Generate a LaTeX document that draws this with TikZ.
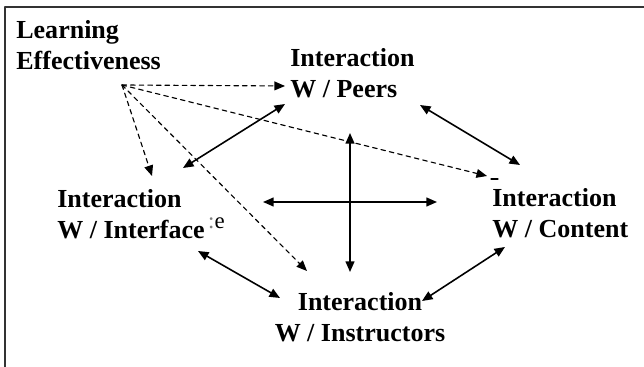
\documentclass[tikz,border=0pt]{standalone}
\usepackage{fontspec}
\setmainfont{Liberation Serif}
\usetikzlibrary{arrows.meta}

\begin{document}
\begin{tikzpicture}[x=1cm,y=1cm,line cap=round,line join=round,
  lbl/.style={inner sep=0pt,align=left,anchor=north west,
   font=\fontsize{14.8}{17.6}\selectfont\bfseries},
  link/.style={line width=0.9pt,
   {Triangle[length=6pt,width=5pt]}-{Triangle[length=6pt,width=5pt]}},
  hint/.style={line width=0.65pt,dash pattern=on 2.6pt off 2.3pt,
   -{Triangle[length=6pt,width=5pt]}}]
  \useasboundingbox (0,0) rectangle (12.88,-7.34);
  \draw[line width=1.1pt,black!80,line cap=butt] (0.10,-7.34) -- (0.10,-0.14) -- (12.88,-0.14);
  \node[lbl] (learn) at (0.32,-0.40) {Learning\\Effectiveness};
  \node[lbl] (peers) at (5.80,-0.96) {Interaction\\W / Peers};
  \node[lbl] (iface) at (1.14,-3.78) {Interaction\\W / Interface\kern2pt{\mdseries\fontsize{13}{13}\selectfont\raisebox{0.2cm}{{\color{gray}:}e}}};
  \node[lbl] (content) at (9.84,-3.76) {Interaction\\W / Content};
  \node[lbl,anchor=north,align=center] (instr) at (7.20,-5.84) {Interaction\\W / Instructors};
  \coordinate (src) at ([shift={(2.12,-1.30)}]learn.north west);
  \draw[hint] (src) -- ([shift={(-0.10,-0.76)}]peers.north west);
  \draw[hint] (src) -- ([shift={(-0.10,0.24)}]content.north west);
  \draw[line width=0.65pt] ([shift={(-0.02,0.18)}]content.north west) -- ++(0.14,0);
  \draw[hint] (src) -- ([shift={(1.90,0.26)}]iface.north west);
  \draw[hint] (src) -- ([shift={(-1.06,0.42)}]instr.north);
  \draw[link] ([shift={(2.52,0.42)}]iface.north west) -- ([shift={(-0.10,-1.12)}]peers.north west);
  \draw[link] ([shift={(2.60,-1.14)}]peers.north west) -- ([shift={(0.56,0.46)}]content.north west);
  \draw[link] ([shift={(2.82,-1.24)}]iface.north west) -- ([shift={(-1.60,-0.12)}]instr.north);
  \draw[link] ([shift={(1.24,-0.18)}]instr.north) -- ([shift={(0.26,-1.18)}]content.north west);
  \coordinate (hubl) at (5.26,-4.04);
  \coordinate (hubr) at (8.74,-4.04);
  \coordinate (hubt) at (7.00,-2.66);
  \coordinate (hubb) at (7.00,-5.44);
  \draw[link] (hubl) -- (hubr);
  \draw[link] (hubt) -- (hubb);
 \end{tikzpicture}
\end{document}
